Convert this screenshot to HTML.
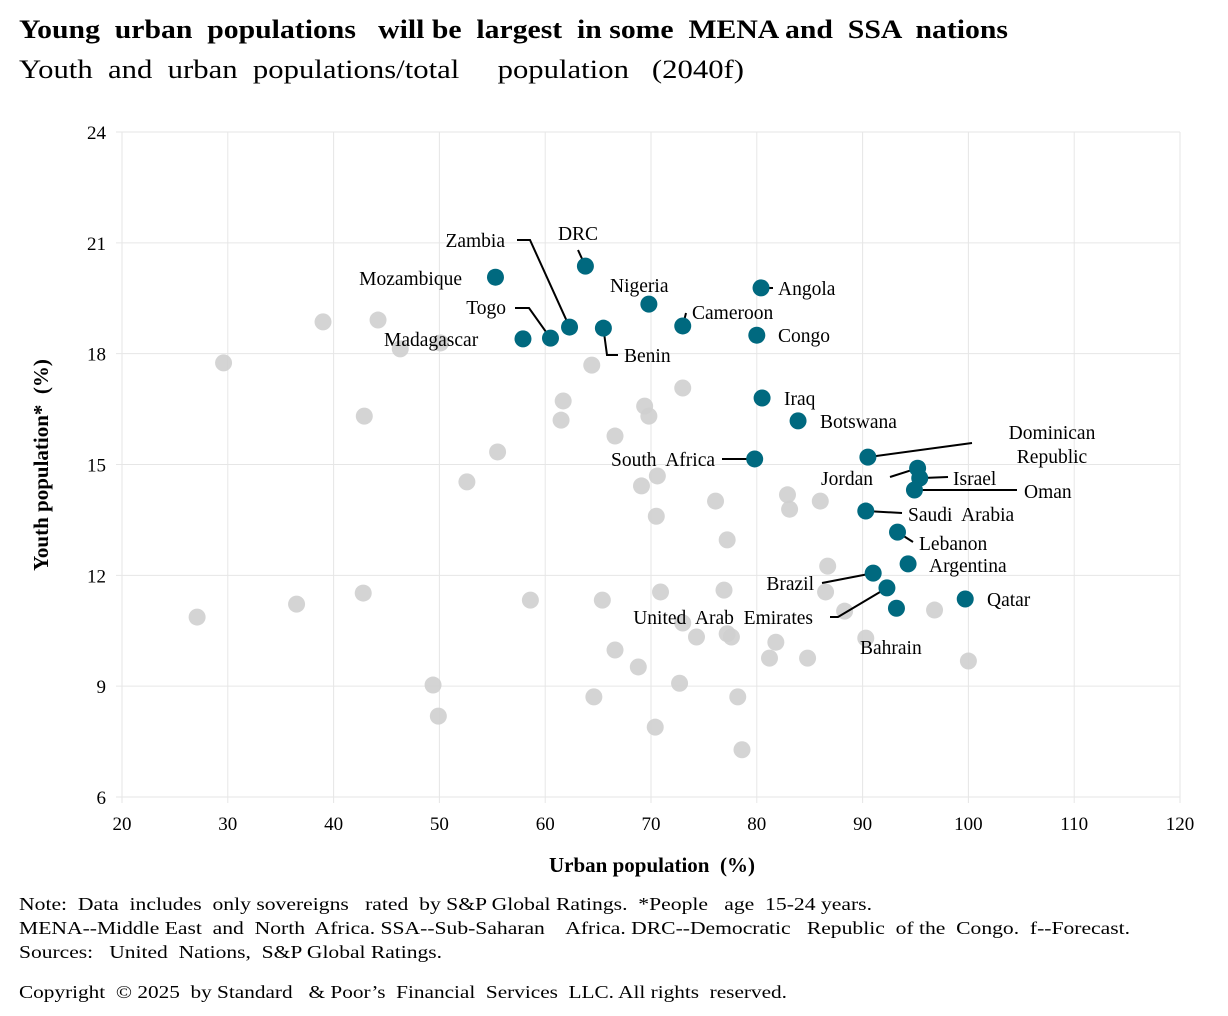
<!DOCTYPE html>
<html><head><meta charset="utf-8"><style>
html,body{margin:0;padding:0;background:#fff;}
svg{display:block;font-family:"Liberation Serif",serif;}
text{white-space:pre;}
</style></head><body>
<svg id="chart" width="1228" height="1016" viewBox="0 0 1228 1016">
<text x="19" y="38" font-size="26" font-weight="bold" textLength="989" lengthAdjust="spacingAndGlyphs">Young  urban  populations   will be  largest  in some  MENA and  SSA  nations</text>
<text x="19" y="78" font-size="26" textLength="725" lengthAdjust="spacingAndGlyphs">Youth  and  urban  populations/total     population   (2040f)</text>
<g id="grid"></g>
<g id="axes"></g>
<g id="grey"></g>
<g id="lines"></g>
<g id="hl"></g>
<g id="labels"></g>
<text x="652" y="872" font-size="21" font-weight="bold" text-anchor="middle">Urban population  (%)</text>
<text transform="translate(48,465) rotate(-90)" font-size="21" font-weight="bold" text-anchor="middle">Youth population*  (%)</text>
<text x="19" y="910" font-size="18" textLength="853" lengthAdjust="spacingAndGlyphs">Note:  Data  includes  only sovereigns   rated  by S&amp;P Global Ratings.  *People   age  15-24 years.</text>
<text x="19" y="934" font-size="18" textLength="1111" lengthAdjust="spacingAndGlyphs">MENA--Middle East  and  North  Africa. SSA--Sub-Saharan    Africa. DRC--Democratic   Republic  of the  Congo.  f--Forecast.</text>
<text x="19" y="958" font-size="18" textLength="423" lengthAdjust="spacingAndGlyphs">Sources:   United  Nations,  S&amp;P Global Ratings.</text>
<text x="19" y="998" font-size="18" textLength="768" lengthAdjust="spacingAndGlyphs">Copyright  © 2025  by Standard   &amp; Poor’s  Financial  Services  LLC. All rights  reserved.</text>
</svg>
<script>
const xTicks = [20,30,40,50,60,70,80,90,100,110,120];
const yTicks = [6,9,12,15,18,21,24];
const hlNames = ["Mozambique","DRC","Angola","Nigeria","Cameroon","Zambia","Benin","Togo","Madagascar","Congo","Iraq","Botswana","South Africa","Dominican Republic","Jordan","Israel","Oman","Saudi Arabia","Lebanon","Argentina","Brazil","United Arab Emirates","Bahrain","Qatar"];
const hlUrban = [55.3,63.8,80.4,69.8,73.0,62.3,65.5,60.5,57.9,80.0,80.5,83.9,79.8,90.5,95.2,95.4,94.9,90.3,93.3,94.3,91.0,92.3,93.2,99.7];
const hlYouth = [20.07,20.37,19.78,19.34,18.75,18.72,18.69,18.42,18.40,18.50,16.80,16.18,15.15,15.20,14.90,14.63,14.31,13.74,13.17,12.31,12.06,11.66,11.11,11.36];
const greyUrban = [29.6,27.1,36.5,39.0,42.9,42.8,44.2,46.3,50.1,49.4,49.9,52.6,55.5,58.6,61.7,61.5,64.4,64.6,65.4,66.6,66.6,69.4,69.8,69.1,70.6,70.5,68.8,73.0,70.9,72.7,70.4,73.0,74.3,76.1,76.9,77.2,77.2,77.6,78.2,78.6,82.9,83.1,86.0,86.7,86.5,81.8,81.2,84.8,88.3,90.3,96.8,100.0];
const greyYouth = [17.75,10.87,11.22,18.86,16.31,11.52,18.91,18.13,18.29,9.03,8.19,14.53,15.34,11.33,16.72,16.20,17.69,8.71,11.33,15.77,9.98,16.58,16.31,14.42,14.69,13.60,9.52,17.07,11.55,9.08,7.89,10.71,10.33,14.01,11.60,12.96,10.42,10.33,8.71,7.28,14.18,13.79,14.01,12.25,11.55,10.19,9.76,9.76,11.03,10.30,11.06,9.68];

const X0=122,X1=1180,Y0=797,Y1=132;
const sx=v=>X0+(v-20)/(120-20)*(X1-X0);
const sy=v=>Y0-(v-6)/(24-6)*(Y0-Y1);
const NS="http://www.w3.org/2000/svg";
function mk(tag,attrs,parent){const e=document.createElementNS(NS,tag);for(const k in attrs)e.setAttribute(k,attrs[k]);document.getElementById(parent).appendChild(e);return e;}

xTicks.forEach(t=>{
  const l=mk("line",{x1:sx(t),x2:sx(t),y1:Y1,y2:Y0+6,stroke:"#e6e6e6","stroke-width":1},"grid");
  
  
  const tx=mk("text",{x:sx(t),y:830,"font-size":19,"text-anchor":"middle"},"axes");
  tx.textContent=t;
  
  
});
yTicks.forEach(t=>{
  const l=mk("line",{x1:X0-6,x2:X1,y1:sy(t),y2:sy(t),stroke:"#e6e6e6","stroke-width":1},"grid");
  
  
  const tx=mk("text",{x:106,y:sy(t)+7,"font-size":19,"text-anchor":"end"},"axes");
  tx.textContent=t;
  
  
});
greyUrban.forEach((u,i)=>{
  const c=mk("circle",{cx:sx(u),cy:sy(greyYouth[i]),r:8.5,fill:"#cfcfcf","fill-opacity":0.9},"grey");
  
  
});
const layout = {
 "Mozambique":[462,285,"end",null,"Mozambique"],
 "DRC":[578,240,"middle",[[578,250]],"DRC"],
 "Angola":[778,295,"start",[[773,288]],"Angola"],
 "Nigeria":[610,292,"start",[[643,302]],"Nigeria"],
 "Cameroon":[692,319,"start",[[686,313]],"Cameroon"],
 "Zambia":[505,247,"end",[[530,240],[517,240]],"Zambia"],
 "Benin":[624,362,"start",[[607,355],[618,355]],"Benin"],
 "Togo":[506,314,"end",[[529,308],[515,308]],"Togo"],
 "Madagascar":[384,346,"start",null,"Madagascar"],
 "Congo":[778,342,"start",null,"Congo"],
 "Iraq":[784,405,"start",null,"Iraq"],
 "Botswana":[820,428,"start",null,"Botswana"],
 "South Africa":[715,466,"end",[[722,459]],"South  Africa"],
 "Dominican Republic":[1052,439,"middle",[[972,443]],"Dominican"],
 "Jordan":[873,485,"end",[[890,477]],"Jordan"],
 "Israel":[953,485,"start",[[948,477]],"Israel"],
 "Oman":[1024,498,"start",[[1017,490]],"Oman"],
 "Saudi Arabia":[908,521,"start",[[902,513]],"Saudi  Arabia"],
 "Lebanon":[919,550,"start",[[913,542]],"Lebanon"],
 "Argentina":[929,572,"start",null,"Argentina"],
 "Brazil":[814,590,"end",[[822,583]],"Brazil"],
 "United Arab Emirates":[813,624,"end",[[838,617],[830,617]],"United  Arab  Emirates"],
 "Bahrain":[860,654,"start",null,"Bahrain"],
 "Qatar":[987,606,"start",null,"Qatar"]
};
hlNames.forEach((n,i)=>{
  const px=sx(hlUrban[i]),py=sy(hlYouth[i]);
  const L=layout[n];
  if(L[3]){
    let pts=[[px,py]].concat(L[3]);
    const pl=mk("polyline",{points:pts.map(p=>p.join(",")).join(" "),fill:"none",stroke:"#000","stroke-width":2},"lines");
    
    
  }
  const c=mk("circle",{cx:px,cy:py,r:8.5,fill:"#00697f"},"hl");
  
  
  const t=mk("text",{x:L[0],y:L[1],"font-size":19.5,"text-anchor":L[2]},"labels");
  
  
  t.textContent=L[4];
  if(n==="Dominican Republic"){
    const t2=mk("text",{x:L[0],y:L[1]+24,"font-size":19.5,"text-anchor":"middle"},"labels");
    t2.textContent="Republic";
    
    
  }
});
</script>
</body></html>
